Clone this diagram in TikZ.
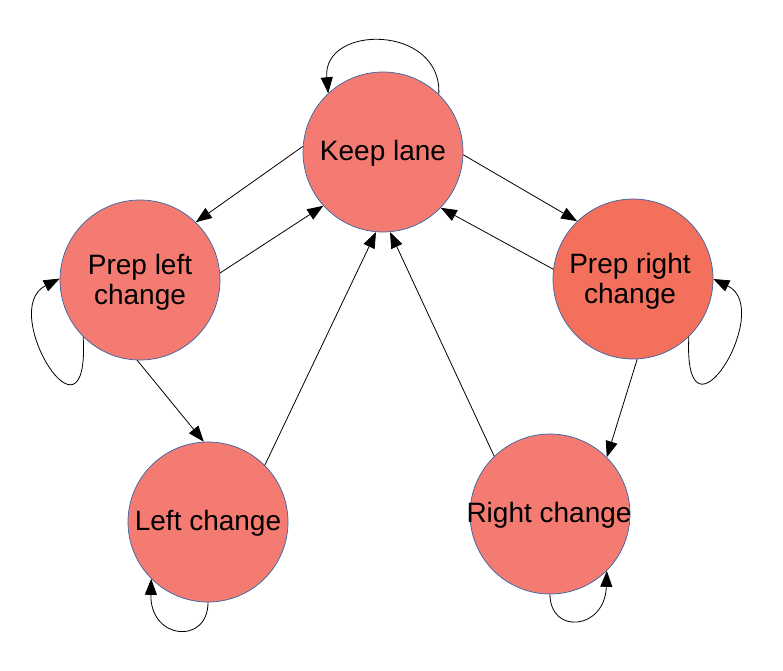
\documentclass[tikz,border=0pt]{standalone}
\usepackage{fontspec}
\setmainfont{Liberation Sans}
\usetikzlibrary{arrows.meta}
\definecolor{salmon}{HTML}{F37B71}
\definecolor{salmondark}{HTML}{F2705C}
\definecolor{edgeblue}{HTML}{3465A4}
\tikzset{
  state/.style={circle, draw=edgeblue, line width=0.7pt, fill=salmon, minimum size=160pt, inner sep=0pt},
  lbl/.style={align=center, font=\fontsize{28}{30}\selectfont, inner sep=0pt},
  arr/.style={-{Triangle[length=16pt,width=12pt]}, line width=0.8pt, black},
}
\begin{document}
\begin{tikzpicture}[x=1pt,y=-1pt]
\useasboundingbox (0,0) rectangle (783,670);
\node[state] (K) at (383,152) {};
\node[state] (PL) at (140,280) {};
\node[state, fill=salmondark] (PR) at (633,279) {};
\node[state] (LC) at (208,522) {};
\node[state] (RC) at (550,514) {};
\node[lbl] (Kt) at (383,153) {Keep lane};
\node[lbl] (PLt) at (140,282) {Prep left\\change};
\node[lbl] (PRt) at (630,281) {Prep right\\change};
\node[lbl] (LCt) at (208,523) {Left change};
\node[lbl] (RCt) at (549,515) {Right change};
% straight transitions
\draw[arr] (K.176) -- (PL.46);
\draw[arr] (PL.5) -- (K.222.5);
\draw[arr] (LC.45) -- (K.265.6);
\draw[arr] (RC.134) -- (K.275);
\draw[arr] (PR.173.5) -- (K.316.5);
\draw[arr] (K.358) -- (PR.134.5);
\draw[arr] (PL.268) -- (LC.93.5);
\draw[arr] (PR.273) -- (RC.45);
% self loops
\draw[arr] (K.46) .. controls (442,24) and (322,24) .. (K.133.5);
\draw[arr] (PL.225) .. controls (90,460) and (-3,310) .. (PL.179);
\draw[arr] (PR.314.5) .. controls (683,459) and (776,309) .. (PR.0);
\draw[arr] (LC.270) .. controls (208,645) and (150,640) .. (LC.225);
\draw[arr] (RC.270) .. controls (550,635) and (605,630) .. (RC.315);
\end{tikzpicture}
\end{document}
